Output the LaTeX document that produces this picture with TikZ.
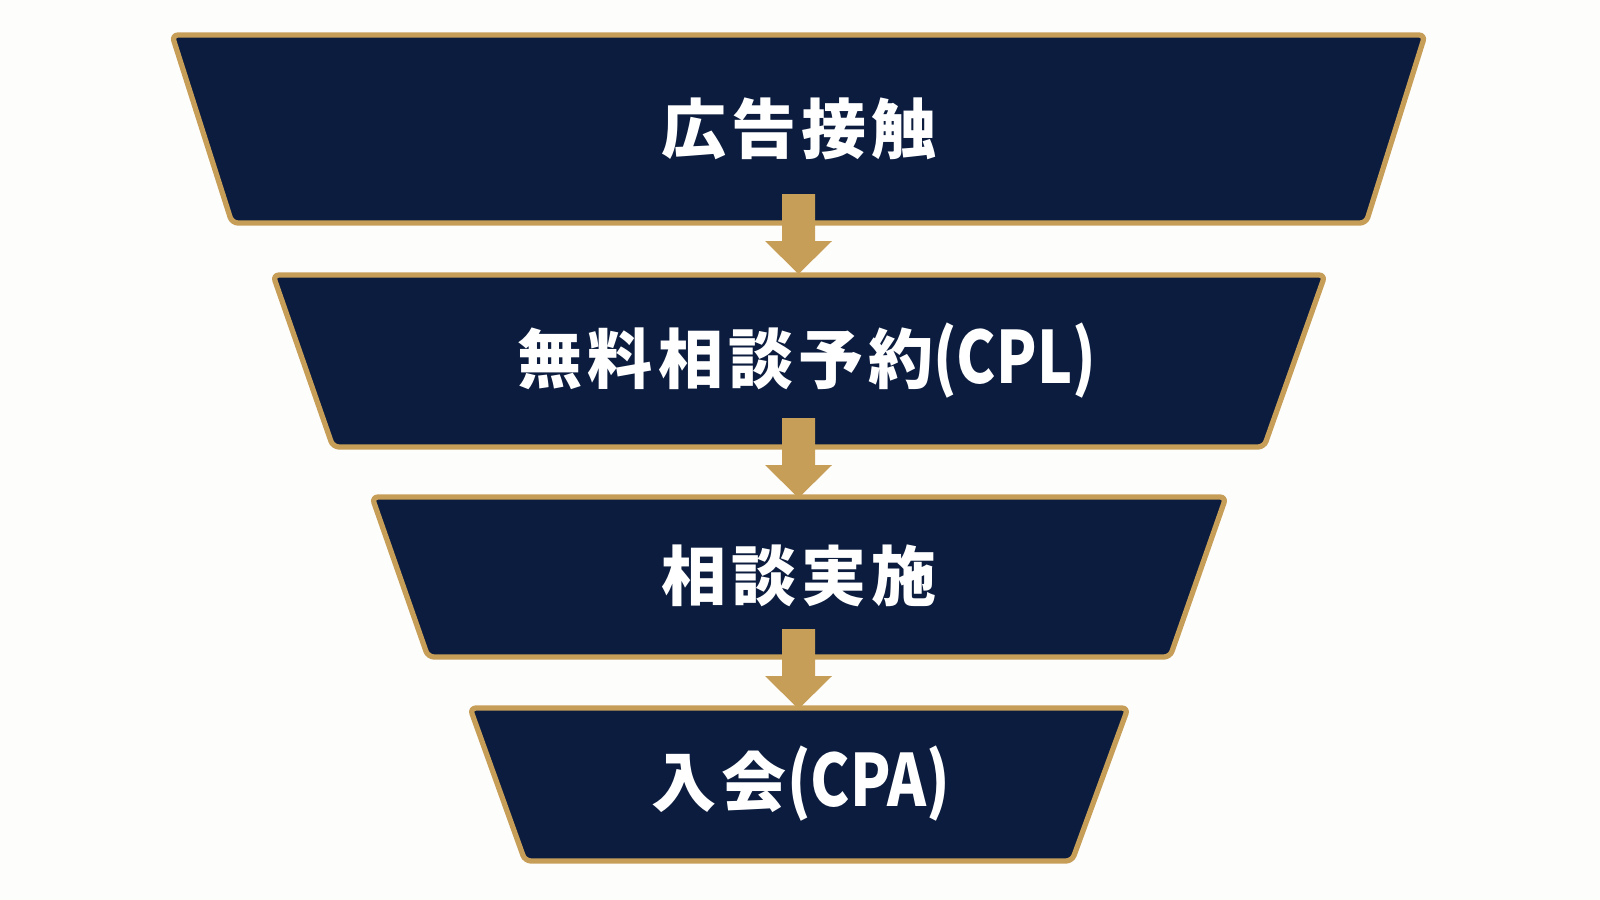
\documentclass[tikz,border=0pt]{standalone}
\usepackage{fontspec}
\usepackage{graphicx}
\setmainfont{Noto Sans CJK JP}
\newfontfamily\jpbase{Noto Sans CJK JP}
\newcommand\jpfont{\jpbase\bfseries}
\newcommand\latin[1]{\scalebox{0.82}[1]{\fontsize{20.5pt}{24pt}\selectfont #1}}
\newcommand\cg{\kern0.05cm\relax}
\usetikzlibrary{calc}
\definecolor{navy}{HTML}{0B1C3E}
\definecolor{gold}{HTML}{C79E58}
\definecolor{bg}{HTML}{FDFDFC}
\tikzset{
  stage/.style={fill=navy, draw=gold, line width=1.5pt, rounded corners=0.06cm, line join=round},
  stagetext/.style={text=white, font=\jpfont\fontsize{18.5pt}{22pt}\selectfont, inner sep=0pt},
  goldarrow/.style={fill=gold}
}
\newcommand\goldarrow[2]{%
  \fill[goldarrow] ($(#1)+(-16.5,0)$) -- ($(#1)+(16.5,0)$) -- ($(#2)+(16.5,-33)$) -- ($(#2)+(33.5,-33)$) -- (#2) -- ($(#2)+(-33.5,-33)$) -- ($(#2)+(-16.5,-33)$) -- cycle;}
\begin{document}
\begin{tikzpicture}[x=0.01cm,y=-0.01cm]
\fill[bg] (0,0) rectangle (1600,900);
\useasboundingbox (0,0) rectangle (1600,900);
% stages
\draw[stage] (172,35) -- (1425,35) -- (1366,223) -- (232,223) -- cycle;
\draw[stage] (273,275) -- (1325,275) -- (1264,447) -- (333,447) -- cycle;
\draw[stage] (372,497) -- (1226,497) -- (1170,657) -- (428,657) -- cycle;
\draw[stage] (470,708) -- (1128,708) -- (1072,861) -- (525,861) -- cycle;
% labels
\node[stagetext] (s1) at (799,129) {広\cg 告\cg 接\cg 触};
\node[stagetext] (s2) at (807,361) {無\cg 料\cg 相\cg 談\cg 予\cg 約\latin{(CPL)}};
\node[stagetext] (s3) at (799,576) {相\cg 談\cg 実\cg 施};
\node[stagetext] (s4) at (801,784) {入\cg 会\latin{(CPA)}};
% arrow anchors
\coordinate (a1s) at (798.5,194);
\coordinate (a1e) at (798.5,274);
\coordinate (a2s) at (798.5,418);
\coordinate (a2e) at (798.5,498);
\coordinate (a3s) at (798.5,629);
\coordinate (a3e) at (798.5,709);
\goldarrow{a1s}{a1e}
\goldarrow{a2s}{a2e}
\goldarrow{a3s}{a3e}
\end{tikzpicture}
\end{document}
